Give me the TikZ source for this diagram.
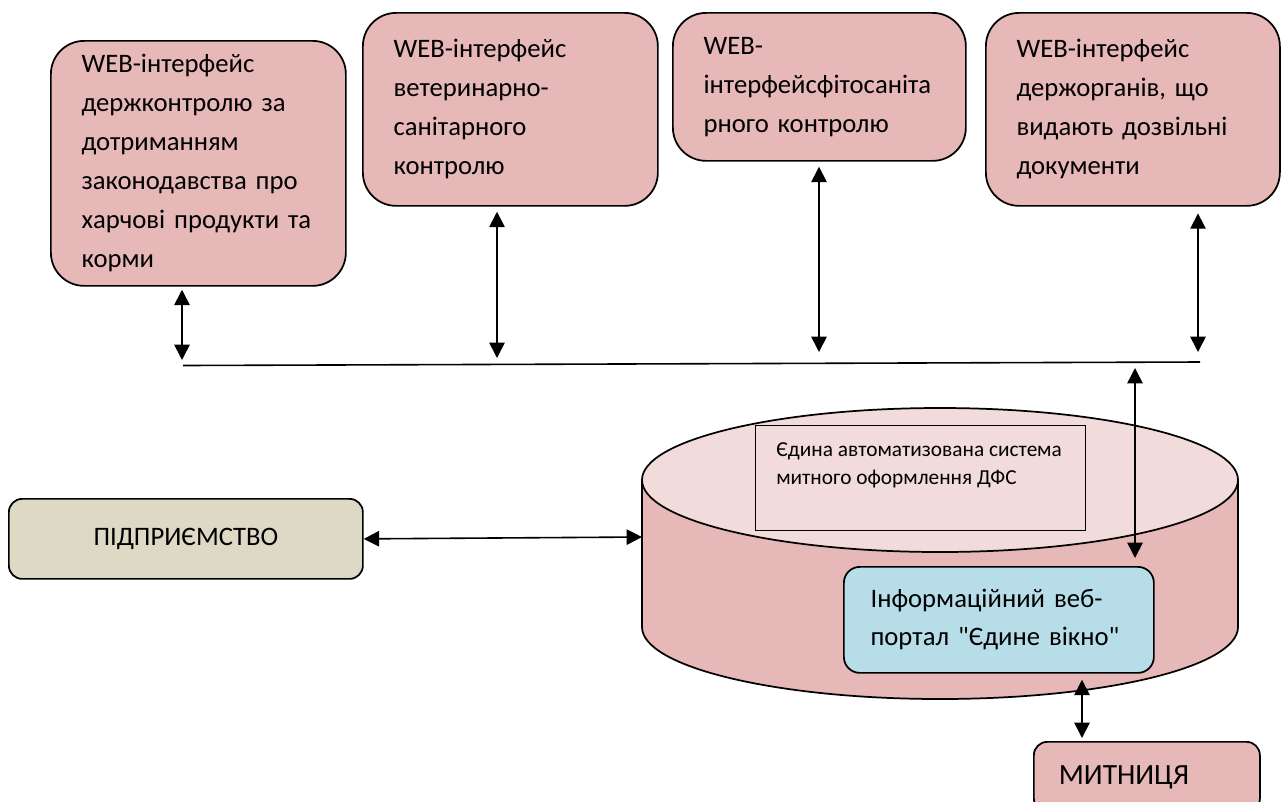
\documentclass[tikz,border=0pt]{standalone}
\usepackage{fontspec}
\newfontfamily\karlito{Carlito}
\usetikzlibrary{arrows.meta}

\definecolor{rozh}{HTML}{E6B8B7}
\definecolor{rozhsvit}{HTML}{F2DCDB}
\definecolor{blak}{HTML}{B7DEE8}
\definecolor{bezh}{HTML}{DDD9C4}

\begin{document}
\begin{tikzpicture}[x=0.75pt, y=-0.75pt,
	vikno/.style={draw, line width=1.3pt, fill=rozh, rounded corners=25pt, anchor=north west,
		align=left, inner xsep=23pt, font=\karlito\fontsize{20}{29.25}\selectfont},
	dvi/.style={{Triangle[length=11.5pt,width=11.5pt]}-{Triangle[length=11.5pt,width=11.5pt]}, line width=1.2pt}]
\useasboundingbox (0,0) rectangle (1281,801);

% WEB-iнтерфейси
\node [vikno, minimum width=221.25pt, text width=175.25pt, minimum height=183.75pt] (b1) at (50,40)
	{WEB-інтерфейс\\держконтролю за\\дотриманням\\законодавства про\\харчові продукти та\\корми};
\node [vikno, minimum width=221.25pt, text width=175.25pt, minimum height=144.75pt] (b2) at (362,12)
	{WEB-інтерфейс\\ветеринарно-\\санітарного\\контролю};
\node [vikno, minimum width=219.75pt, text width=173.75pt, minimum height=111pt] (b3) at (672,12)
	{WEB-\\інтерфейсфітосаніта\\рного контролю};
\node [vikno, minimum width=220.5pt, text width=174.5pt, minimum height=144.75pt] (b4) at (985,12)
	{WEB-інтерфейс\\держорганів, що\\видають дозвільні\\документи};

\coordinate (s1) at (182,360);
\coordinate (s2) at (497,358);
\coordinate (s3) at (819,352);
\coordinate (s4) at (1198,352);
\draw [dvi, shorten <=2.25pt] (b1.south -| s1) -- (s1);
\draw [dvi, shorten <=3.75pt] (b2.south -| s2) -- (s2);
\draw [dvi, shorten <=3.75pt] (b3.south -| s3) -- (s3);
\draw [dvi, shorten <=5pt] (b4.south -| s4) -- (s4);

\coordinate (shyna1) at (183,365.5);
\coordinate (shyna2) at (1200,362);
\draw [line width=1.2pt] (shyna1) -- (shyna2);

% cylinder
\filldraw [fill=rozh, line width=1.3pt] (642,480) -- (642,627)
	arc [start angle=180, end angle=0, x radius=298, y radius=72] -- (1238,480);
\filldraw [fill=rozhsvit, line width=1.3pt] (940,480) ellipse [x radius=298, y radius=72];

\node [draw, fill=rozhsvit, line width=1pt, minimum width=247.5pt, minimum height=78.75pt,
	anchor=north west] (eais) at (755,425) {};
\node [anchor=north west, align=left, inner sep=0pt, font=\karlito\fontsize{16}{21}\selectfont] (eaist)
	at (776,442) {Єдина автоматизована система\\митного оформлення ДФС};

\node [draw, fill=blak, line width=1.3pt, rounded corners=12pt, anchor=north west, minimum width=232.5pt,
	minimum height=79.5pt, text width=192.5pt, inner xsep=20pt, align=left,
	font=\karlito\fontsize{20}{28.5}\selectfont] (portal) at (843,566)
	{Інформаційний веб-\\портал "Єдине вікно"};

\node [draw, fill=bezh, line width=1.3pt, rounded corners=10pt, anchor=north west, minimum width=265.5pt,
	minimum height=60pt, font=\karlito\fontsize{20}{24}\selectfont] (firma) at (8,498) {ПІДПРИЄМСТВО};
\coordinate (cyl) at (642,537);
\draw [dvi] (firma.east) -- (cyl);

\coordinate (s5) at (1135,368);
\draw [dvi, shorten >=6pt] (s5) -- (portal.north -| s5);

\node [draw, fill=rozh, line width=1.3pt, rounded corners=10pt, anchor=north west, minimum width=169.5pt,
	minimum height=52.5pt, text width=132pt, inner xsep=18.75pt, align=left,
	font=\karlito\fontsize{22}{24}\selectfont] (mytnycia) at (1033,741) {МИТНИЦЯ};
\coordinate (s6) at (1082,700);
\draw [dvi, shorten <=4.5pt, shorten >=2.25pt] (portal.south -| s6) -- (mytnycia.north -| s6);

\end{tikzpicture}
\end{document}
